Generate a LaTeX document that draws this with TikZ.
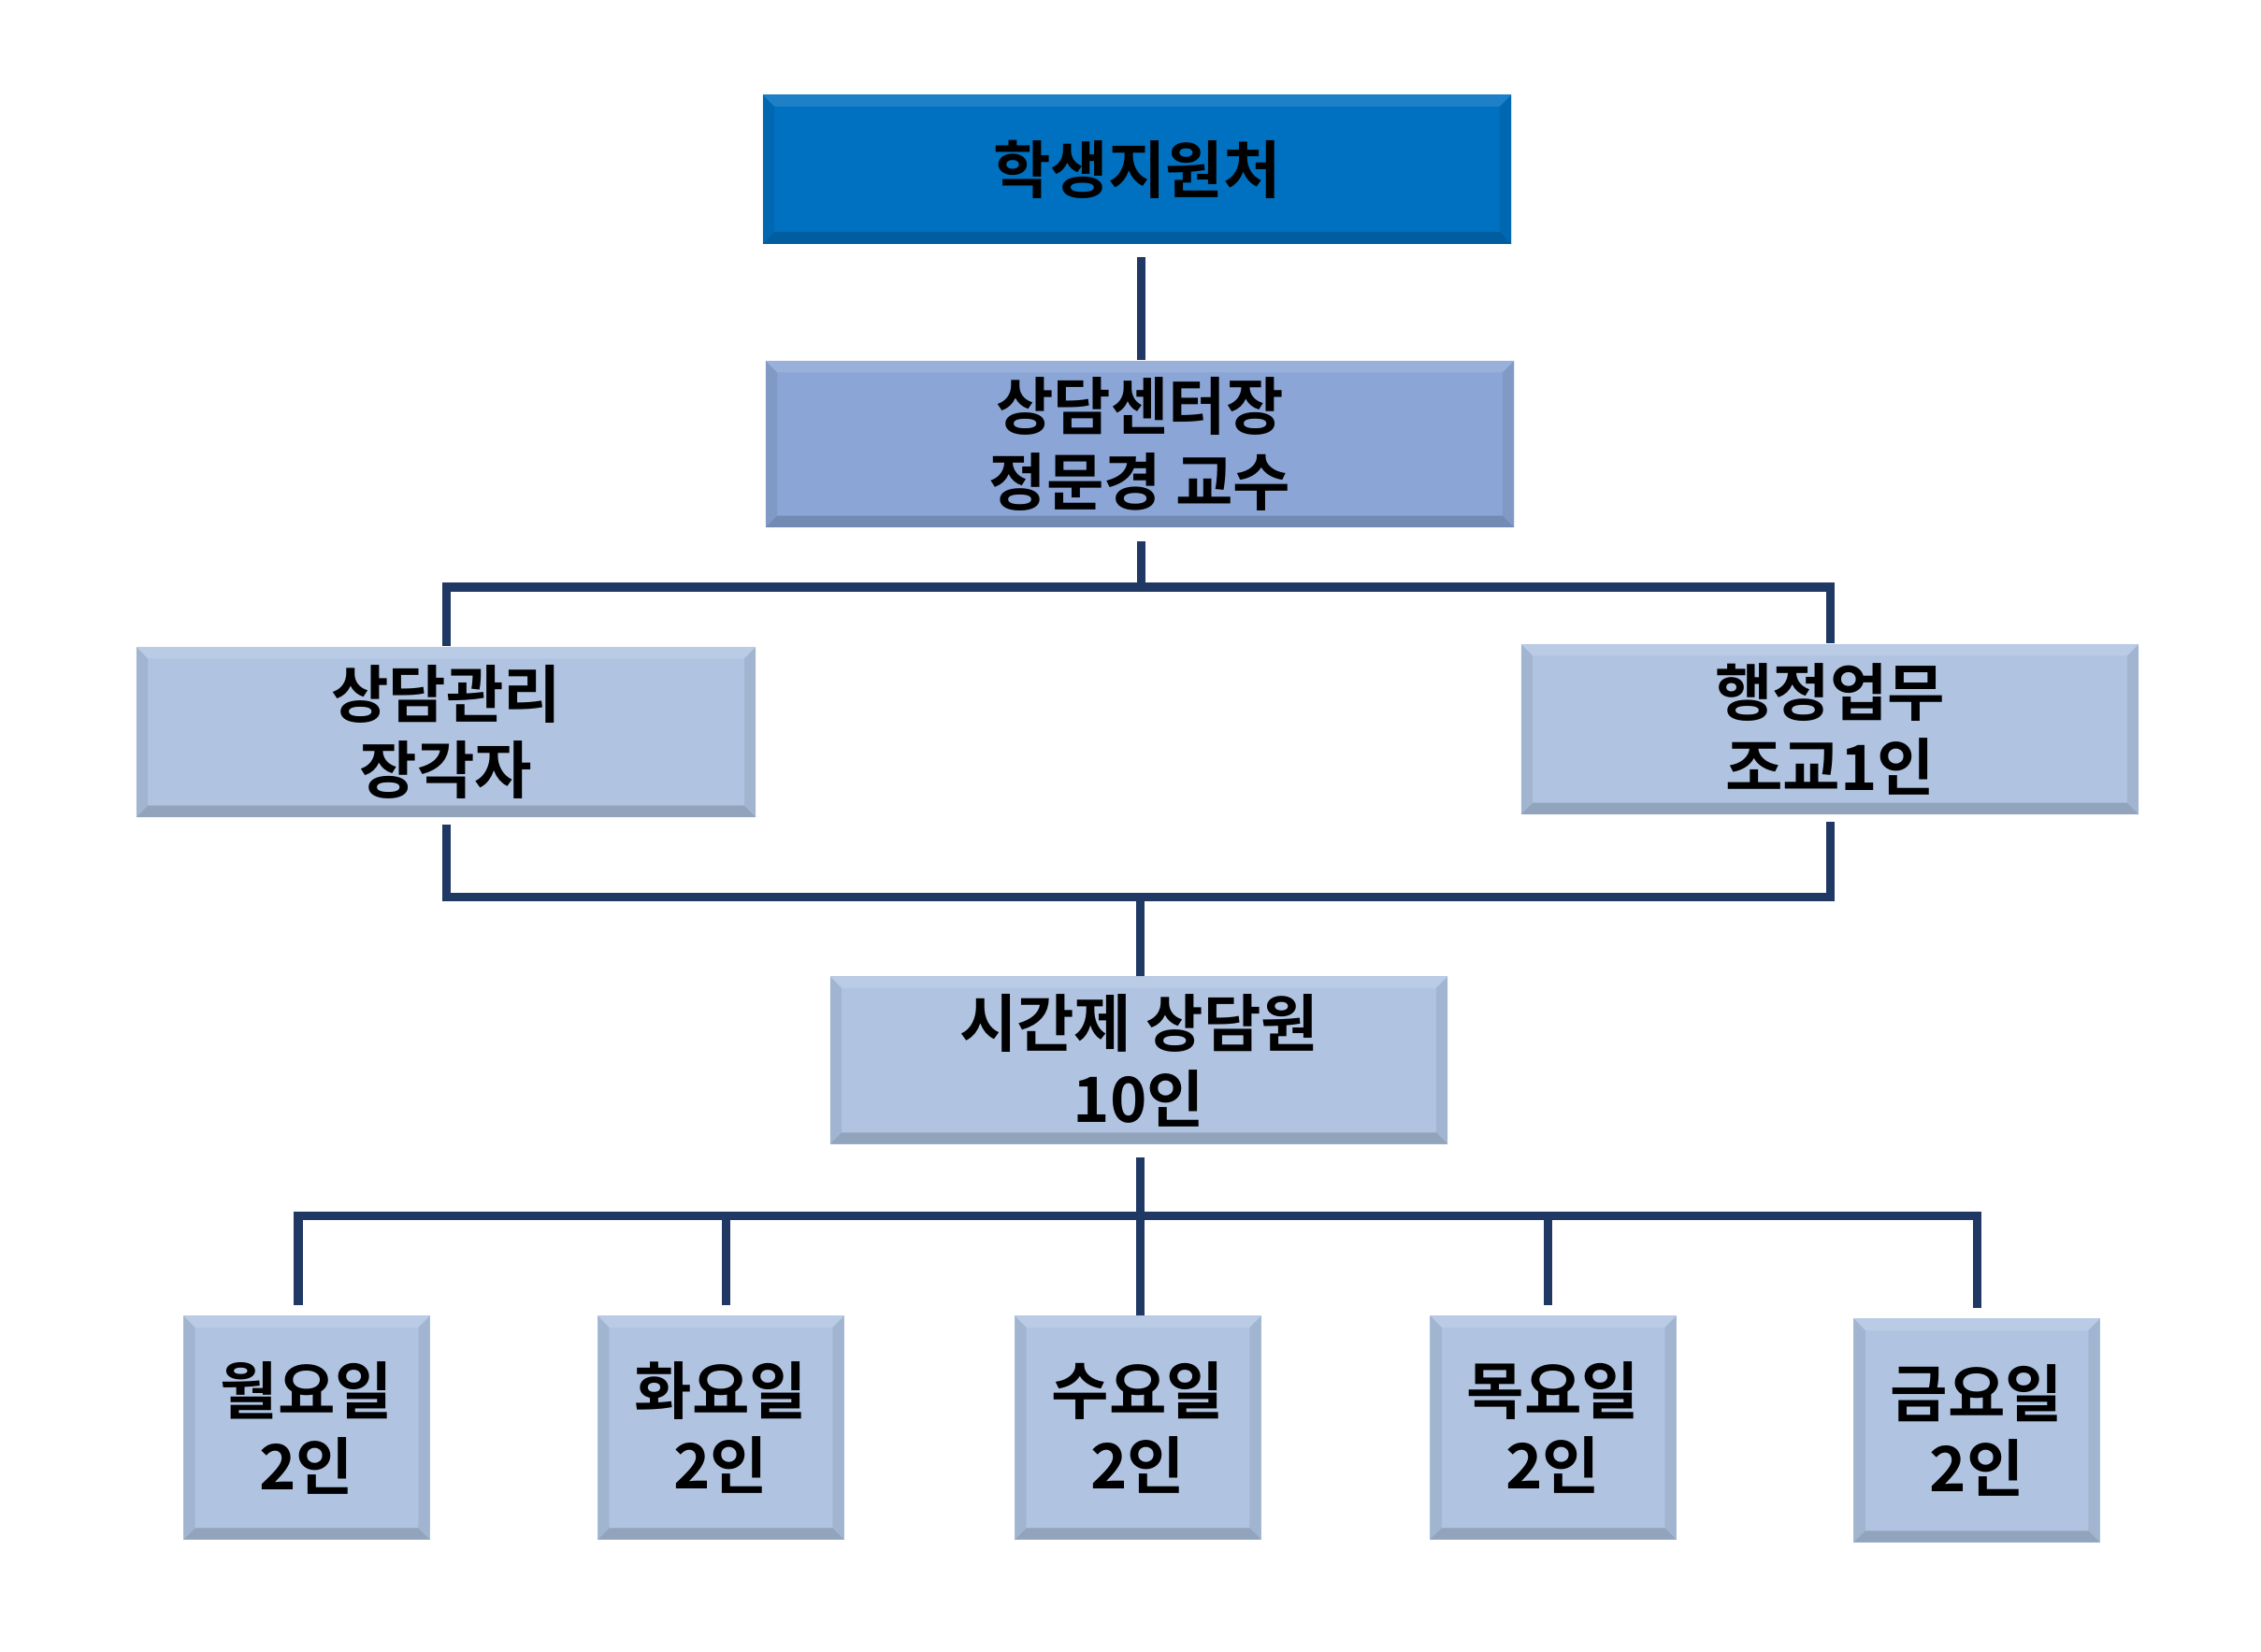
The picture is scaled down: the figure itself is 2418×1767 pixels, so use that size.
\documentclass[tikz,border=0pt]{standalone}
\usepackage{fontspec}
\setmainfont{Noto Sans CJK KR}[BoldFont=* Bold]
\definecolor{linec}{RGB}{32,56,100}
\definecolor{topfill}{RGB}{0,112,192}
\definecolor{midfill}{RGB}{139,166,214}
\definecolor{lowfill}{RGB}{176,196,226}
\tikzset{
  orgbox/.style={rectangle, fill=#1, inner sep=0pt, align=center,
    font=\fontsize{19}{23}\selectfont\bfseries,
    path picture={
      \path (path picture bounding box.south west) coordinate (bsw)
            (path picture bounding box.north east) coordinate (bne);
      \fill[#1!70!black, opacity=0.55] (bsw) -- (bsw -| bne) -- ([xshift=-3.5pt,yshift=3.5pt]bsw -| bne) -- ([xshift=3.5pt,yshift=3.5pt]bsw) -- cycle;
      \fill[#1!85!black, opacity=0.5] (bsw) -- ([xshift=3.5pt,yshift=3.5pt]bsw) -- ([xshift=3.5pt,yshift=-3.5pt]bsw |- bne) -- (bsw |- bne) -- cycle;
      \fill[#1!85!black, opacity=0.5] (bsw -| bne) -- (bne) -- ([xshift=-3.5pt,yshift=-3.5pt]bne) -- ([xshift=-3.5pt,yshift=3.5pt]bsw -| bne) -- cycle;
      \fill[#1!80!white, opacity=0.6] (bsw |- bne) -- (bne) -- ([xshift=-3.5pt,yshift=-3.5pt]bne) -- ([xshift=3.5pt,yshift=-3.5pt]bsw |- bne) -- cycle;
    }},
  conn/.style={draw=linec, line width=0.09cm},
}
\begin{document}
\begin{tikzpicture}[x=0.01cm,y=-0.01cm]
\useasboundingbox (0,0) rectangle (2418,1767);
\node[orgbox=topfill, minimum width=8cm, minimum height=1.59cm] (top) at (1216,181) {학생지원처};
\node[orgbox=midfill, minimum width=8cm, minimum height=1.78cm] (b2) at (1219,475) {상담센터장\\정문경 교수};
\node[orgbox=lowfill, minimum width=6.62cm, minimum height=1.82cm] (lft) at (477,783) {상담관리\\장각자};
\node[orgbox=lowfill, minimum width=6.60cm, minimum height=1.82cm] (rgt) at (1957,780) {행정업무\\조교1인};
\node[orgbox=lowfill, minimum width=6.60cm, minimum height=1.79cm] (ctr) at (1218,1134) {시간제 상담원\\10인};
\node[orgbox=lowfill, minimum width=2.63cm, minimum height=2.39cm] (d1) at (328,1527) {월요일\\2인};
\node[orgbox=lowfill, minimum width=2.63cm, minimum height=2.39cm] (d2) at (771,1527) {화요일\\2인};
\node[orgbox=lowfill, minimum width=2.63cm, minimum height=2.39cm] (d3) at (1217,1527) {수요일\\2인};
\node[orgbox=lowfill, minimum width=2.63cm, minimum height=2.39cm] (d4) at (1661,1527) {목요일\\2인};
\node[orgbox=lowfill, minimum width=2.63cm, minimum height=2.39cm] (d5) at (2114,1530) {금요일\\2인};
\coordinate (j1) at (1220,628);
\coordinate (j2) at (1219,959);
\coordinate (j3) at (1219,1300);
\draw[conn, shorten <=4pt] (top.south -| j1) -- (b2.north -| j1);
\draw[conn, shorten <=4pt] (b2.south -| j1) -- (j1);
\draw[conn] (lft.north) |- (j1);
\draw[conn] (j1) -| (rgt.north);
\draw[conn, shorten <=2pt] (lft.south) |- (j2);
\draw[conn, shorten <=2pt] (rgt.south) |- (j2);
\draw[conn] (j2) -- (ctr.north -| j2);
\draw[conn, shorten <=4pt] (ctr.south -| j3) -- (d3.north -| j3);
\draw[conn, shorten <=3pt] ([xshift=-0.09cm]d1.north) |- (j3);
\draw[conn, shorten <=3pt] (d5.north) |- (j3);
\draw[conn, shorten <=3pt] ([xshift=0.05cm]d2.north) -- ([xshift=0.05cm]d2.north |- j3);
\draw[conn, shorten <=3pt] ([xshift=-0.06cm]d4.north) -- ([xshift=-0.06cm]d4.north |- j3);
\end{tikzpicture}
\end{document}
